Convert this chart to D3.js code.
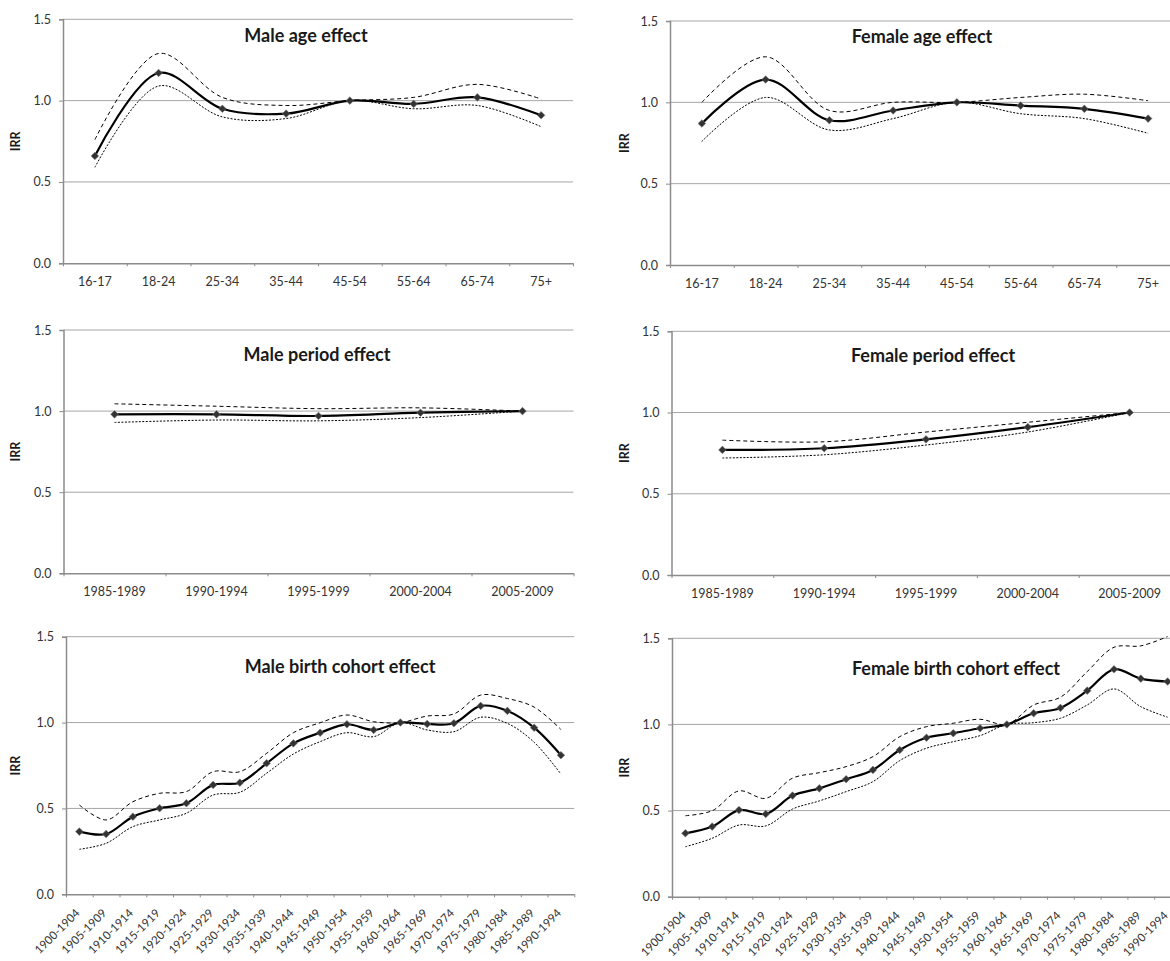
<!DOCTYPE html>
<html>
<head>
<meta charset="utf-8">
<script src="https://d3js.org/d3.v7.min.js"></script>
<style>
  body { margin: 0; background: #fff; }
  svg { display: block; font-family: Lato, "Open Sans", sans-serif; }
</style>
</head>
<body>
<div id="vis"></div>
<script>
  // category labels
  var ageCats = ["16-17", "18-24", "25-34", "35-44", "45-54", "55-64", "65-74", "75+"]
  var periodCats = ["1985-1989", "1990-1994", "1995-1999", "2000-2004", "2005-2009"]
  var cohortCats = ["1900-1904", "1905-1909", "1910-1914", "1915-1919", "1920-1924",
    "1925-1929", "1930-1934", "1935-1939", "1940-1944", "1945-1949", "1950-1954",
    "1955-1959", "1960-1964", "1965-1969", "1970-1974", "1975-1979", "1980-1984",
    "1985-1989", "1990-1994"]
  var yTicks = [0, 0.5, 1.0, 1.5]

  // IRR estimates with lower / upper 95% limits
  var maleAge   = [0.66, 1.17, 0.95, 0.92, 1.00, 0.98, 1.02, 0.91]
  var maleAgeLo = [0.59, 1.09, 0.90, 0.89, 1.00, 0.95, 0.97, 0.84]
  var maleAgeHi = [0.76, 1.29, 1.02, 0.97, 1.00, 1.02, 1.10, 1.01]

  var femaleAge   = [0.87, 1.14, 0.89, 0.95, 1.00, 0.98, 0.96, 0.90]
  var femaleAgeLo = [0.76, 1.03, 0.83, 0.90, 1.00, 0.93, 0.90, 0.81]
  var femaleAgeHi = [1.00, 1.28, 0.95, 1.00, 1.00, 1.03, 1.05, 1.01]

  var malePeriod   = [0.98, 0.98, 0.97, 0.99, 1.00]
  var malePeriodLo = [0.93, 0.945, 0.94, 0.96, 1.00]
  var malePeriodHi = [1.045, 1.03, 1.015, 1.02, 1.00]

  var femalePeriod   = [0.77, 0.78, 0.835, 0.91, 1.00]
  var femalePeriodLo = [0.72, 0.74, 0.80, 0.88, 1.00]
  var femalePeriodHi = [0.83, 0.82, 0.88, 0.94, 1.00]

  var maleCohort   = [0.365, 0.351, 0.452, 0.501, 0.530, 0.637, 0.650, 0.763, 0.879, 0.941,
    0.990, 0.957, 1.00, 0.992, 0.996, 1.097, 1.068, 0.970, 0.810]
  var maleCohortLo = [0.262, 0.297, 0.394, 0.433, 0.472, 0.578, 0.594, 0.705, 0.817, 0.889,
    0.941, 0.918, 1.00, 0.957, 0.947, 1.031, 0.995, 0.885, 0.700]
  var maleCohortHi = [0.520, 0.433, 0.539, 0.588, 0.598, 0.714, 0.714, 0.821, 0.941, 0.999,
    1.044, 1.005, 1.00, 1.038, 1.050, 1.160, 1.140, 1.090, 0.960]

  var femaleCohort   = [0.368, 0.407, 0.503, 0.480, 0.587, 0.629, 0.682, 0.736, 0.852, 0.923,
    0.949, 0.978, 1.00, 1.065, 1.096, 1.196, 1.320, 1.266, 1.249]
  var femaleCohortLo = [0.290, 0.339, 0.416, 0.411, 0.509, 0.556, 0.610, 0.668, 0.790, 0.862,
    0.900, 0.935, 1.00, 1.010, 1.036, 1.113, 1.206, 1.103, 1.042]
  var femaleCohortHi = [0.470, 0.499, 0.614, 0.571, 0.688, 0.720, 0.755, 0.813, 0.929, 0.987,
    1.007, 1.030, 1.00, 1.113, 1.158, 1.307, 1.448, 1.456, 1.510]

  var svg = d3.select("#vis")
    .append("svg")
      .attr("width", 1170)
      .attr("height", 961)

  svg.append("rect").attr("width", 1170).attr("height", 961).attr("fill", "white")

  // panel layout (plot area box, title spot, IRR label spot)
  var panels = [
    {title: "Male age effect", cats: ageCats, mid: maleAge, lo: maleAgeLo, hi: maleAgeHi,
      x0: 63, y0: 19.3, w: 510, h: 244, tx: 306, ty: 42, irrX: 16},
    {title: "Female age effect", cats: ageCats, mid: femaleAge, lo: femaleAgeLo, hi: femaleAgeHi,
      x0: 670, y0: 21, w: 510, h: 244, tx: 922, ty: 43, irrX: 625},
    {title: "Male period effect", cats: periodCats, mid: malePeriod, lo: malePeriodLo, hi: malePeriodHi,
      x0: 63.5, y0: 330, w: 510, h: 243.3, tx: 317, ty: 361, irrX: 16},
    {title: "Female period effect", cats: periodCats, mid: femalePeriod, lo: femalePeriodLo, hi: femalePeriodHi,
      x0: 671.5, y0: 331.3, w: 509, h: 243.7, tx: 933, ty: 362, irrX: 625},
    {title: "Male birth cohort effect", cats: cohortCats, mid: maleCohort, lo: maleCohortLo, hi: maleCohortHi,
      x0: 66, y0: 636.7, w: 508.3, h: 257.6, tx: 340, ty: 673, irrX: 16, rotate: true},
    {title: "Female birth cohort effect", cats: cohortCats, mid: femaleCohort, lo: femaleCohortLo, hi: femaleCohortHi,
      x0: 672, y0: 638.3, w: 509, h: 258.4, tx: 956, ty: 675, irrX: 625, rotate: true}
  ]

  panels.forEach(drawPanel)

  function drawPanel(p) {
    var g = svg.append("g")
      .attr("transform", "translate(" + p.x0 + "," + p.y0 + ")")

    var x = d3.scaleBand().domain(p.cats).range([0, p.w]).padding(0)
    var xEdge = d3.scaleLinear().domain([0, p.cats.length]).range([0, p.w])
    var y = d3.scaleLinear().domain([0, 1.5]).range([p.h, 0])

    // gridlines
    g.selectAll(".grid")
      .data(yTicks.filter(function(d) { return d > 0 }))
      .enter().append("line")
        .attr("x1", 0).attr("x2", p.w)
        .attr("y1", function(d) { return y(d) })
        .attr("y2", function(d) { return y(d) })
        .attr("stroke", "#a6a6a6")
        .attr("stroke-width", 1)

    // y axis
    var ya = g.append("g")
      .call(d3.axisLeft(y).tickValues(yTicks).tickFormat(d3.format(".1f")).tickSize(4).tickPadding(8))
    ya.select(".domain").attr("stroke", "#8c8c8c").attr("stroke-width", 1.5)
    ya.selectAll(".tick line").attr("stroke", "#8c8c8c")
    ya.selectAll("text").attr("font-size", "12.5px").attr("fill", "#333")
      .attr("font-family", "Lato, sans-serif")

    // x axis: tick marks on category edges
    var xe = g.append("g")
      .attr("transform", "translate(0," + p.h + ")")
      .call(d3.axisBottom(xEdge).tickValues(d3.range(p.cats.length + 1)).tickFormat("").tickSize(3).tickSizeOuter(0))
    xe.select(".domain").attr("stroke", "#8c8c8c").attr("stroke-width", 1.5)
    xe.selectAll(".tick line").attr("stroke", "#8c8c8c")

    // x axis labels
    var xl = g.append("g")
      .attr("transform", "translate(0," + p.h + ")")
      .call(d3.axisBottom(x).tickSize(0).tickPadding(14))
    xl.select(".domain").remove()
    xl.selectAll("text").attr("font-size", "12.5px").attr("fill", "#333")
      .attr("font-family", "Lato, sans-serif")

    if (p.rotate) {
      // slanted labels, text end sits under the category centre
      xl.selectAll("text")
        .attr("text-anchor", "end")
        .attr("x", 0)
        .attr("y", 0)
        .attr("dy", 0)
        .attr("font-size", "11.5px")
        .attr("transform", "translate(1,19.5) rotate(-45)")
    }

    var pts = p.cats.map(function(c, i) {
      return {c: c, m: p.mid[i], l: p.lo[i], u: p.hi[i]}
    })
    var cx = function(d) { return x(d.c) + x.bandwidth() / 2 }

    var curve = d3.curveCatmullRom.alpha(0.5)

    // confidence limits
    g.append("path")
      .datum(pts)
      .attr("fill", "none")
      .attr("stroke", "#000")
      .attr("stroke-width", 1)
      .attr("stroke-dasharray", "4,3")
      .attr("d", d3.line().x(cx).y(function(d) { return y(d.u) }).curve(curve))

    g.append("path")
      .datum(pts)
      .attr("fill", "none")
      .attr("stroke", "#000")
      .attr("stroke-width", 1)
      .attr("stroke-dasharray", "2,1.5")
      .attr("d", d3.line().x(cx).y(function(d) { return y(d.l) }).curve(curve))

    // estimate
    g.append("path")
      .datum(pts)
      .attr("fill", "none")
      .attr("stroke", "#000")
      .attr("stroke-width", 2.2)
      .attr("d", d3.line().x(cx).y(function(d) { return y(d.m) }).curve(curve))

    // diamond markers
    g.selectAll(".mk")
      .data(pts)
      .enter().append("path")
        .attr("transform", function(d) { return "translate(" + cx(d) + "," + y(d.m) + ")" })
        .attr("d", "M0,-3.8L3.8,0L0,3.8L-3.8,0Z")
        .attr("fill", "#333")
        .attr("stroke", "#777")
        .attr("stroke-width", 0.6)

    // title
    svg.append("text")
      .attr("x", p.tx)
      .attr("y", p.ty)
      .attr("text-anchor", "middle")
      .attr("font-size", "18px")
      .attr("font-weight", "bold")
      .attr("fill", "#1a1a1a")
      .text(p.title)

    // IRR label
    svg.append("text")
      .attr("transform", "translate(" + p.irrX + "," + (p.y0 + p.h / 2) + ") rotate(-90)")
      .attr("text-anchor", "middle")
      .attr("dy", "0.35em")
      .attr("font-size", "12.5px")
      .attr("font-weight", "bold")
      .attr("fill", "#1a1a1a")
      .text("IRR")
  }
</script>
</body>
</html>
